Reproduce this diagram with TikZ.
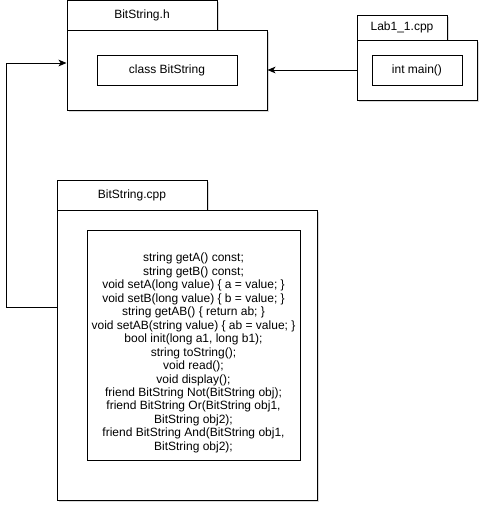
\documentclass[tikz,border=0pt]{standalone}
\usepackage{fontspec}
\setmainfont{Liberation Sans}
\usetikzlibrary{arrows.meta,positioning,shadows}

\begin{document}
\begin{tikzpicture}[
    x=0.75pt, y=-0.75pt,
    arrowtip/.style={
      -{Stealth[length=6pt,width=5pt,inset=1.6pt]}
    },
    boxsize/.style 2 args={minimum width=#1*0.75pt,minimum height=#2*0.75pt},
    boxed/.style={draw,rectangle,line width=0.75pt,fill=white,inner sep=0pt,
      font=\fontsize{9}{10.1}\selectfont,
      drop shadow={shadow xshift=1.6pt,shadow yshift=-1.6pt,opacity=0.3}},
    plain/.style={draw,rectangle,line width=0.75pt,fill=white,inner sep=0pt,
      font=\fontsize{9}{10.1}\selectfont}
  ]
    \useasboundingbox (0,0) rectangle (489,512);

    % BitString.h
    \node[boxed,boxsize={150}{30}] (HeaderTab) at (142,15) {BitString.h};
    \node[boxed,boxsize={200}{80}] (HeaderBody) at (167,70) {};
    \node[plain,boxsize={140}{30}] (ClassBox) at (167,70) {class BitString};

    % Lab1_1.cpp
    \node[boxed,boxsize={90}{25}] (MainTab) at (402,27.5) {Lab1\_1.cpp};
    \node[boxed,boxsize={120}{60}] (MainBody) at (417,70) {};
    \node[plain,boxsize={90}{30}] (MainBox) at (417,70) {int main()};

    % BitString.cpp
    \node[boxed,boxsize={150}{30}] (SourceTab) at (132,195) {BitString.cpp};
    \node[boxed,boxsize={260}{290}] (SourceBody) at (187,355) {};
    \node[plain,boxsize={213}{230}] (MethodsBox) at (193.5,345) {};
    \node[align=center,inner sep=0pt,font=\fontsize{9}{10.1}\selectfont] (MethodsText) at (193.5,353) {%
      string getA() const;\\
      string getB() const;\\
      void setA(long value) \{ a = value; \}\\
      void setB(long value) \{ b = value; \}\\
      string getAB() \{ return ab; \}\\
      void setAB(string value) \{ ab = value; \}\\
      bool init(long a1, long b1);\\
      string toString();\\
      void read();\\
      void display();\\
      friend BitString Not(BitString obj);\\
      friend BitString Or(BitString obj1,\\
      BitString obj2);\\
      friend BitString And(BitString obj1,\\
      BitString obj2);};

    \draw[arrowtip,line width=0.75pt] (MainBody.west) -- (HeaderBody.east);
    \draw[arrowtip,line width=0.75pt] ([yshift=36pt]SourceBody.west) -- ++(-50,0)
      |- ([yshift=5.25pt]HeaderBody.west);
  \end{tikzpicture}
\end{document}
